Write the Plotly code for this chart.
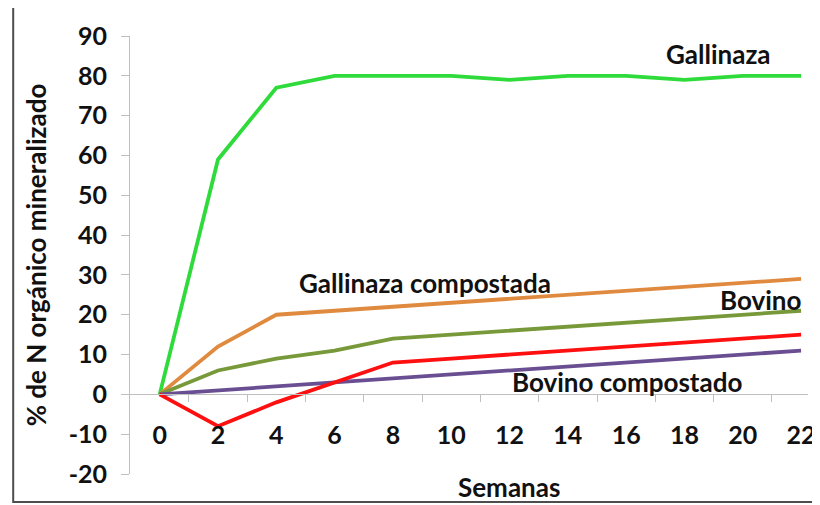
import plotly.graph_objects as go

semanas = [0, 2, 4, 6, 8, 10, 12, 14, 16, 18, 20, 22]
gallinaza = [0, 59, 77, 80, 80, 80, 79, 80, 80, 79, 80, 80]
gallinaza_comp = [0, 12, 20, 21, 22, 23, 24, 25, 26, 27, 28, 29]
bovino = [0, 6, 9, 11, 14, 15, 16, 17, 18, 19, 20, 21]
bovino_comp = [0, 1, 2, 3, 4, 5, 6, 7, 8, 9, 10, 11]
red_series = [0, -8, -2, 3, 8, 9, 10, 11, 12, 13, 14, 15]
y_ticks = [-20, -10, 0, 10, 20, 30, 40, 50, 60, 70, 80, 90]
minor_ticks = [1, 3, 5, 7, 9, 11, 13, 15, 17, 19, 21]

FONT = "Lato"
OFF = 8  # page body margin offset
W, H = 820, 505
ML = 130 - OFF
MT = 35 - OFF
MR = W - (815 - OFF)
MB = H - (474 - OFF)
PW = W - ML - MR
PH = H - MT - MB

def px_x(px):
    return (px - OFF - ML) / PW

def px_y(py):
    return (H - MB - (py - OFF)) / PH

fig = go.Figure()
series = [
    ("Gallinaza", gallinaza, "#2EDB3A"),
    ("Gallinaza compostada", gallinaza_comp, "#DF8A3E"),
    ("Bovino", bovino, "#78993A"),
    ("Bovino compostado", bovino_comp, "#6A4E92"),
    ("Otro", red_series, "#FF1010"),
]
for name, vals, col in series:
    fig.add_trace(go.Scatter(x=semanas, y=vals, mode="lines", name=name,
                             line=dict(color=col, width=3.8), showlegend=False))

fig.add_trace(go.Scatter(x=[0], y=[0], xaxis="x2", mode="markers",
                         marker=dict(opacity=0), showlegend=False, hoverinfo="skip"))

unit = (808 - 160) / 22
x_lo = (130 - 160) / unit
x_hi = (815 - 160) / unit

tick_font = dict(size=25, family=FONT, weight="bold", color="#111111")

fig.update_layout(
    width=W, height=H,
    margin=dict(l=ML, r=MR, t=MT, b=MB),
    paper_bgcolor="white", plot_bgcolor="white",
    font=dict(family=FONT, color="#111111"),
    xaxis=dict(range=[x_lo, x_hi], tickvals=semanas, ticktext=[str(s) for s in semanas],
               showline=False, showgrid=False, zeroline=False, ticks="",
               anchor="free", position=px_y(418), tickfont=tick_font),
    xaxis2=dict(overlaying="x", matches="x", anchor="free", position=px_y(394),
                showline=True, linecolor="#BFBFBF", linewidth=1,
                tickvals=minor_ticks, ticks="outside", ticklen=7, tickcolor="#BFBFBF",
                showticklabels=False, showgrid=False, zeroline=False),
    yaxis=dict(range=[-20, 90], tickvals=y_ticks, ticktext=[str(v) for v in y_ticks],
               showgrid=False, zeroline=False,
               showline=True, linecolor="#BFBFBF", linewidth=1,
               ticks="outside", ticklen=8, tickcolor="#BFBFBF",
               ticklabelstandoff=9, tickfont=tick_font,
               title=dict(text="% de N orgánico mineralizado", standoff=14,
                          font=dict(size=26, family=FONT, weight="bold", color="#111111"))),
)

annos = [
    ("Gallinaza", 725, 53),
    ("Gallinaza compostada", 428, 283),
    ("Bovino", 767, 300),
    ("Bovino compostado", 632, 382),
    ("Semanas", 513, 487),
]
for txt, cx, cy in annos:
    fig.add_annotation(text=txt, x=px_x(cx), y=px_y(cy), xref="paper", yref="paper",
                       showarrow=False, xanchor="center", yanchor="middle",
                       font=dict(size=26, family=FONT, weight="bold", color="#111111"))

fig.add_shape(type="rect", xref="paper", yref="paper",
              x0=px_x(12), x1=px_x(840), y0=px_y(502), y1=px_y(6),
              line=dict(color="#4D4D4D", width=2), layer="below")

fig.write_html("out.html")
